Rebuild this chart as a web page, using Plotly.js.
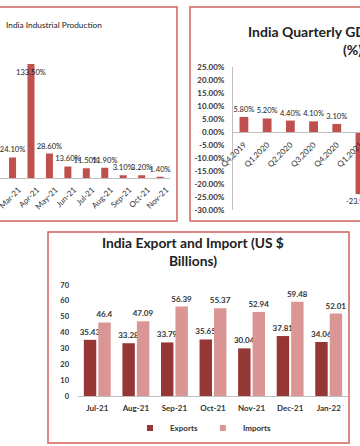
<!DOCTYPE html>
<html><head><meta charset="utf-8">
<script src="https://cdn.plot.ly/plotly-3.0.1.min.js"></script>
<style>html,body{margin:0;padding:0;background:#fff}#c{width:360px;height:446px}</style>
</head><body><div id="c"></div>
<script>
// ---- data ----
const iipMonths = ['Feb-21','Mar-21','Apr-21','May-21','Jun-21','Jul-21','Aug-21','Sep-21','Oct-21','Nov-21'];
const iipGrowth = [-3.2, 24.1, 133.5, 28.6, 13.6, 11.5, 11.9, 3.1, 3.2, 1.4];
const gdpQuarters = ['Q4,2019','Q1,2020','Q2,2020','Q3,2020','Q4,2020','Q1,2021'];
const gdpGrowth = [5.8, 5.2, 4.4, 4.1, 3.1, -23.9];
const gdpTicks = [25,20,15,10,5,0,-5,-10,-15,-20,-25,-30];
const tradeMonths = ['Jul-21','Aug-21','Sep-21','Oct-21','Nov-21','Dec-21','Jan-22'];
const exportsBn = [35.43,33.28,33.79,35.65,30.04,37.81,34.06];
const importsBn = [46.4,47.09,56.39,55.37,52.94,59.48,52.01];
const tradeTicks = [0,10,20,30,40,50,60,70];

// ---- helpers ----
const W = 360, H = 446;
const X = p => p / W;
const Y = p => 1 - p / H;
const pct = v => v.toFixed(2) + '%';
const FONT = 'Lato, "Open Sans", sans-serif';
const RED = '#c0504d';

const traces = [
  {
    type: 'bar', x: iipMonths, y: iipGrowth, xaxis: 'x', yaxis: 'y',
    marker: {color: RED}, width: 0.38,
    text: iipGrowth.map(pct),
    textposition: iipGrowth.map(v => v > 100 ? 'inside' : 'outside'),
    insidetextanchor: 'end', constraintext: 'none', textangle: 0,
    textfont: {size: 7.6, color: '#222', family: FONT},
    insidetextfont: {size: 7.6, color: '#222', family: FONT},
    outsidetextfont: {size: 7.6, color: '#222', family: FONT},
    cliponaxis: false, showlegend: false, hoverinfo: 'skip'
  },
  {
    type: 'bar', x: gdpQuarters, y: gdpGrowth, xaxis: 'x2', yaxis: 'y2',
    marker: {color: RED}, width: 0.38,
    text: gdpGrowth.map(pct), textposition: 'outside', textangle: 0, constraintext: 'none',
    textfont: {size: 7.5, color: '#222', family: FONT},
    cliponaxis: false, showlegend: false, hoverinfo: 'skip'
  },
  {
    type: 'bar', name: 'Exports', x: tradeMonths, y: exportsBn, xaxis: 'x3', yaxis: 'y3',
    marker: {color: '#953735'},
    text: exportsBn.map(String), textposition: 'outside', textangle: 0, constraintext: 'none',
    textfont: {size: 8, color: '#333', family: FONT, weight: 'bold'},
    cliponaxis: false, showlegend: false, hoverinfo: 'skip'
  },
  {
    type: 'bar', name: 'Imports', x: tradeMonths, y: importsBn, xaxis: 'x3', yaxis: 'y3',
    marker: {color: '#d99694'},
    text: importsBn.map(String), textposition: 'outside', textangle: 0, constraintext: 'none',
    textfont: {size: 8, color: '#333', family: FONT, weight: 'bold'},
    cliponaxis: false, showlegend: false, hoverinfo: 'skip'
  },
  {
    type: 'scatter', mode: 'markers', name: 'Exports', x: [null], y: [null], xaxis: 'x3', yaxis: 'y3',
    marker: {symbol: 'square', size: 6, color: '#953735'}, hoverinfo: 'skip'
  },
  {
    type: 'scatter', mode: 'markers', name: 'Imports', x: [null], y: [null], xaxis: 'x3', yaxis: 'y3',
    marker: {symbol: 'square', size: 6, color: '#d99694'}, hoverinfo: 'skip'
  }
];

const panelLine = {color: '#d4625f', width: 1.5};

const layout = {
  width: W, height: H,
  margin: {l: 0, r: 0, t: 0, b: 0},
  paper_bgcolor: '#fff', plot_bgcolor: 'rgba(0,0,0,0)',
  font: {family: FONT, color: '#222'},
  barmode: 'group', bargap: 0.25, bargroupgap: 0.14,
  xaxis: {
    type: 'category', domain: [0, X(169.5)], range: [0.32, 9.51], anchor: 'y',
    showline: true, linecolor: '#bfbfbf', linewidth: 1, ticks: '', showgrid: false,
    tickangle: -45, tickfont: {size: 8, color: '#333', family: FONT},
    ticklabelshift: 6, ticklabelstandoff: 3, fixedrange: true
  },
  yaxis: {
    domain: [Y(178), Y(40)], range: [0, 161.6], anchor: 'x',
    visible: false, showgrid: false, zeroline: false, fixedrange: true
  },
  xaxis2: {
    type: 'category', domain: [X(233), 1], range: [-0.47, 5.0],
    anchor: 'free', position: Y(132),
    showline: true, linecolor: '#bfbfbf', linewidth: 1, ticks: '', showgrid: false,
    tickangle: -45, tickfont: {size: 8, color: '#333', family: FONT},
    ticklabelstandoff: 4, fixedrange: true
  },
  yaxis2: {
    domain: [Y(210), Y(67)], range: [-30, 25], anchor: 'x2',
    tickvals: gdpTicks, ticktext: gdpTicks.map(pct),
    showline: true, linecolor: '#bfbfbf', linewidth: 1, ticks: '',
    showgrid: false, zeroline: false,
    tickfont: {size: 8, color: '#333', family: FONT, weight: 'bold'},
    ticklabelstandoff: 6, fixedrange: true
  },
  xaxis3: {
    type: 'category', domain: [X(78), X(348)], range: [-0.5, 6.5], anchor: 'y3',
    showline: true, linecolor: '#bfbfbf', linewidth: 1, ticks: '', showgrid: false,
    tickangle: 0, tickfont: {size: 8, color: '#333', family: FONT, weight: 'bold'},
    ticklabelstandoff: 4, fixedrange: true
  },
  yaxis3: {
    domain: [Y(396), Y(285)], range: [0, 70], anchor: 'x3',
    tickvals: tradeTicks, showline: false, ticks: '',
    showgrid: false, zeroline: false,
    tickfont: {size: 7.5, color: '#333', family: FONT, weight: 'bold'},
    ticklabelstandoff: 8, fixedrange: true
  },
  legend: {
    orientation: 'h', x: X(203), xanchor: 'center', y: Y(428), yanchor: 'middle',
    font: {size: 8, color: '#333', family: FONT, weight: 'bold'},
    bgcolor: 'rgba(0,0,0,0)', itemwidth: 30, tracegroupgap: 0
  },
  annotations: [
    {xref: 'paper', yref: 'paper', x: X(4), y: Y(25), xanchor: 'left', yanchor: 'middle',
     text: 'India Industrial Production', showarrow: false,
     font: {size: 8.3, color: '#222', family: FONT}},
    {xref: 'paper', yref: 'paper', x: X(352), y: Y(40), xanchor: 'center', yanchor: 'middle',
     text: 'India Quarterly GDP Growth Rate<br>(%)', showarrow: false,
     font: {size: 14, color: '#222', family: FONT, weight: 'bold'}},
    {xref: 'paper', yref: 'paper', x: X(192.5), y: Y(252), xanchor: 'center', yanchor: 'middle',
     text: 'India Export and Import (US $<br>Billions)', showarrow: false,
     font: {size: 13.8, color: '#222', family: FONT, weight: 'bold'}}
  ],
  shapes: [
    {type: 'rect', xref: 'paper', yref: 'paper', x0: -0.02, x1: X(177), y0: Y(221), y1: Y(7), line: panelLine},
    {type: 'rect', xref: 'paper', yref: 'paper', x0: X(190), x1: 1.02, y0: Y(221), y1: Y(7), line: panelLine},
    {type: 'rect', xref: 'paper', yref: 'paper', x0: X(48), x1: X(349), y0: Y(443), y1: Y(232), line: panelLine}
  ]
};

Plotly.newPlot('c', traces, layout, {displayModeBar: false, staticPlot: true});
</script>
</body></html>
